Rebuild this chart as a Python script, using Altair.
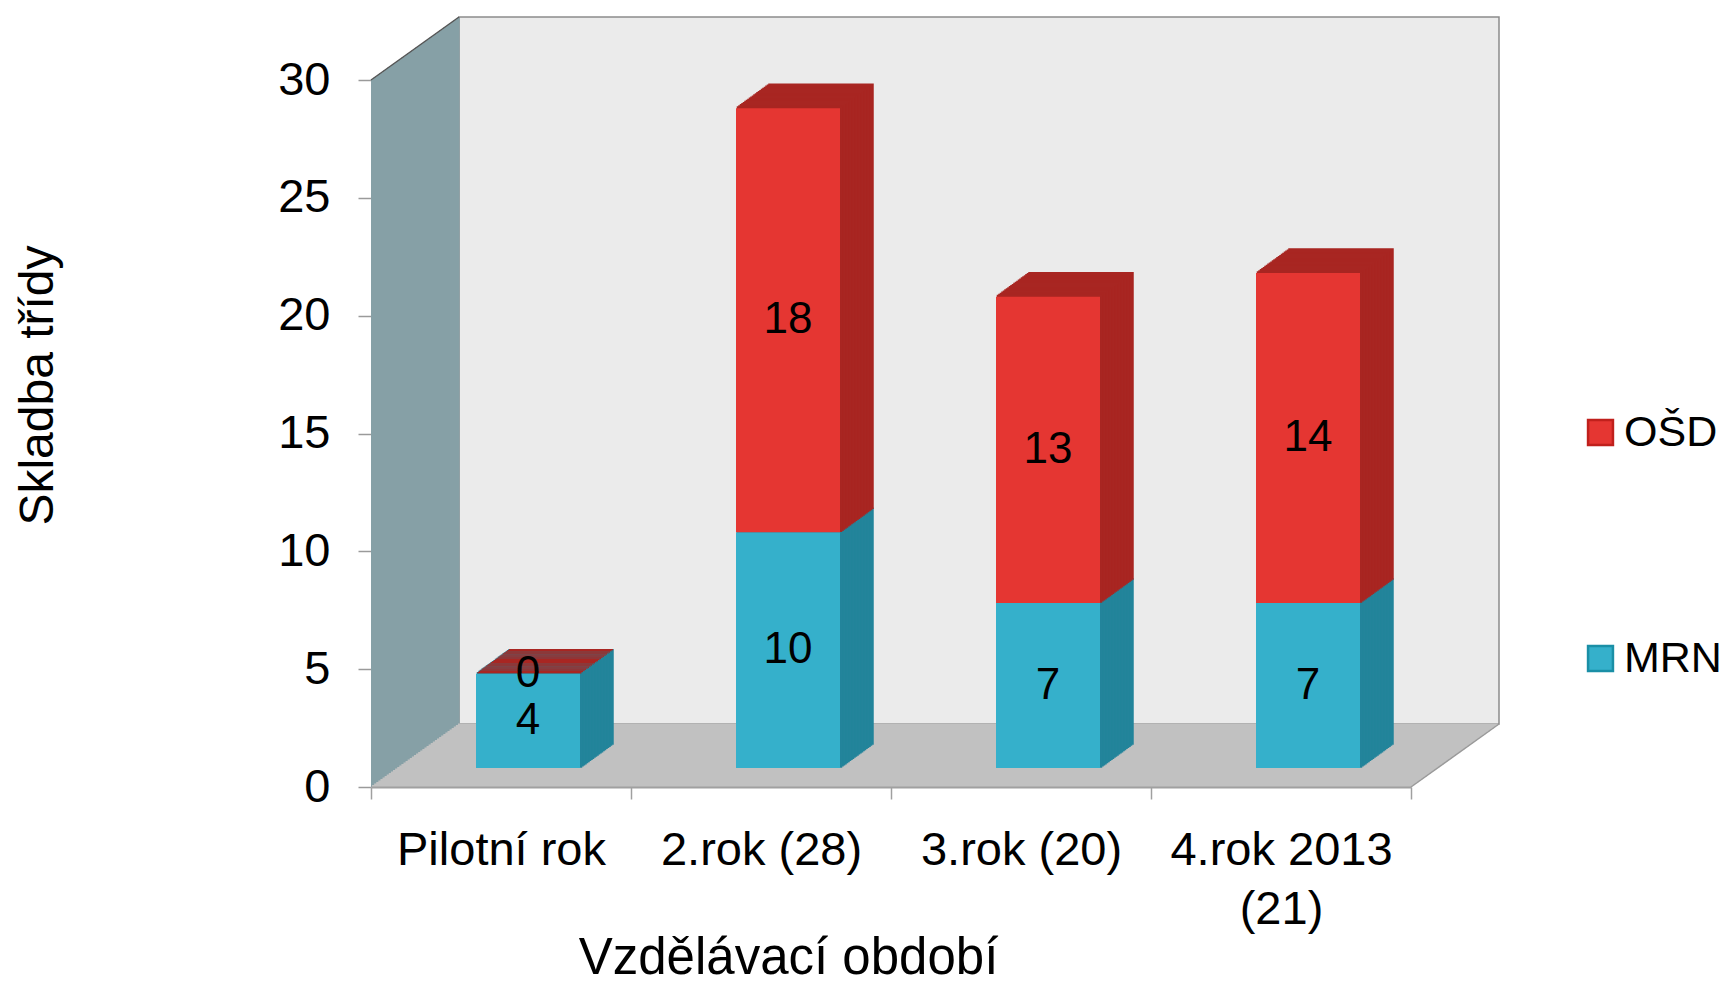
import altair as alt
import pandas as pd

# ---------------- data ----------------
categories = ["Pilotní rok", "2.rok (28)", "3.rok (20)", "4.rok 2013 (21)"]
series_names = ["OŠD", "MRN"]
mrn_values = [4, 10, 7, 7]
osd_values = [0, 18, 13, 14]
y_ticks = [0, 5, 10, 15, 20, 25, 30]

front_colors = ["#e53632", "#35b0cb"]   # OŠD, MRN
edge_colors = ["#c0201c", "#1a8fa6"]    # legend symbol borders
side_colors = {"OŠD": "#a82622", "MRN": "#23849b"}

rows = []
for i, c in enumerate(categories):
    rows.append({"cat": c, "series": "MRN", "value": mrn_values[i], "ord": 0})
    rows.append({"cat": c, "series": "OŠD", "value": osd_values[i], "ord": 1})
df = pd.DataFrame(rows)
one = pd.DataFrame({"d": [0]})

# ---------------- styling ----------------
FONT = "Liberation Sans"
W, H = 1040, 707
DX, DY = 88, 63        # depth of the walls
BX, BY = 27, 19        # front face of bars sits this deep
SX, SY = 33, 24        # depth of bars
BACK = "#ebebeb"
LEFT = "#86a0a6"
FLOOR = "#c1c1c1"

y_scale = alt.Scale(domain=[0, 30], nice=False, zero=True)
y_axis = alt.Axis(values=y_ticks, domain=False, grid=False, ticks=True, tickSize=13,
                  tickColor="#9a9a9a", tickWidth=1.5, labelFontSize=47, labelFont=FONT,
                  labelColor="black", labelPadding=28, titleFontSize=48, titleFont=FONT,
                  titleFontWeight="normal", titleColor="black", titlePadding=215,
                  titleY=305)
Y_TITLE = "Skladba třídy"

def yd(v):
    return alt.YDatum(v, type="quantitative", scale=y_scale, axis=y_axis, title=Y_TITLE)

def y2d(v):
    return alt.Y2Datum(v)

x_axis = alt.Axis(labelAngle=0, domain=True, domainColor="#a0a0a0", domainWidth=2,
                  ticks=True, tickBand="extent", tickSize=12, tickColor="#a0a0a0",
                  tickWidth=1.5, labelFontSize=47, labelFont=FONT, labelColor="black",
                  labelPadding=28, labelLineHeight=59, labelLimit=500,
                  labelExpr="length(datum.label) > 12 ? split(replace(datum.label, ' (', '|('), '|') : datum.label",
                  titleFontSize=51, titleFont=FONT, titleFontWeight="normal",
                  titleColor="black", titleBaseline="alphabetic", titleY=186,
                  titleX=417, zindex=1)
x_enc = alt.X("cat:N", sort=categories,
              scale=alt.Scale(paddingInner=0, paddingOuter=0),
              axis=x_axis, title="Vzdělávací období")

legend_def = alt.Legend(title=None, orient="none", legendX=1208, legendY=331,
                        symbolType="square", symbolSize=620, symbolStrokeWidth=2.5,
                        labelFontSize=43, labelFont=FONT, labelColor="black",
                        labelOffset=2, rowPadding=182, padding=0)
front_scale = alt.Scale(domain=series_names, range=front_colors)
edge_scale = alt.Scale(domain=series_names, range=edge_colors)
bar_w = alt.RelativeBandSize(0.4)

base = alt.Chart(df).transform_stack(
    stack="value", groupby=["cat"], as_=["y0", "y1"], sort=[alt.SortField("ord")]
)

layers = []

# legend carrier (hidden behind the back wall)
layers.append(base.mark_bar(width=bar_w, strokeWidth=2.5).encode(
    x=x_enc, y=yd(15), y2=y2d(15),
    color=alt.Color("series:N", scale=front_scale, legend=legend_def),
    stroke=alt.Stroke("series:N", scale=edge_scale, legend=legend_def),
))

# back wall
layers.append(alt.Chart(one).mark_rect(
    fill=BACK, stroke="#8c8c8c", strokeWidth=1.5,
    xOffset=DX, x2Offset=DX, yOffset=-DY, y2Offset=-DY
).encode(x=alt.value(0), x2=alt.value("width"), y=yd(30), y2=y2d(0)))

# left wall (stacked thin strips)
NL = 44
wl = DX / NL
for i in range(NL):
    sh = (i + 0.5) * wl * DY / DX
    layers.append(alt.Chart(one).mark_rect(
        fill=LEFT, yOffset=-sh
    ).encode(x=alt.value(i * wl), x2=alt.value((i + 1) * wl + 0.6), y=yd(30), y2=y2d(0)))

layers.append(alt.Chart(one).mark_rule(
    color="#555555", strokeWidth=1.5, y2Offset=-DY
).encode(x=alt.value(0), x2=alt.value(DX), y=yd(30), y2=y2d(30)))

# floor
NF = 42
hf = DY / NF
fx = DX / NF
for j in range(NF):
    layers.append(alt.Chart(one).mark_rect(
        fill=FLOOR, xOffset=(j + 0.5) * fx, x2Offset=(j + 0.5) * fx,
        yOffset=-j * hf, y2Offset=-(j + 1) * hf - 0.5
    ).encode(x=alt.value(0), x2=alt.value("width"), y=yd(0), y2=y2d(0)))

layers.append(alt.Chart(one).mark_rule(
    color="#9a9a9a", strokeWidth=1.5, x2Offset=DX, y2Offset=-DY
).encode(x=alt.value("width"), x2=alt.value("width"), y=yd(0), y2=y2d(0)))

# bar depth (side and top faces)
NB = 22
for k in range(NB, 0, -1):
    ox = BX + k * SX / NB
    oy = BY + k * SY / NB
    for s in ["MRN", "OŠD"]:
        layers.append(base.transform_filter(alt.datum.series == s).mark_bar(
            width=bar_w, fill=side_colors[s], stroke=side_colors[s], strokeWidth=1.5,
            xOffset=ox, x2Offset=ox, yOffset=-oy, y2Offset=-oy
        ).encode(
            x=x_enc,
            y=alt.Y("y0:Q", stack=None, scale=y_scale, axis=y_axis, title=Y_TITLE),
            y2="y1:Q",
        ))

# front faces
layers.append(base.mark_bar(
    width=bar_w, xOffset=BX, x2Offset=BX, yOffset=-BY, y2Offset=-BY
).encode(
    x=x_enc,
    y=alt.Y("y0:Q", stack=None, scale=y_scale, axis=y_axis, title=Y_TITLE),
    y2="y1:Q",
    color=alt.Color("series:N", scale=front_scale, legend=legend_def),
))

layers.append(base.transform_calculate(
    mid="(datum.y0 + datum.y1) / 2"
).mark_text(
    xOffset=BX, yOffset=-BY, fontSize=44, font=FONT, color="black"
).encode(
    x=x_enc,
    y=alt.Y("mid:Q", scale=y_scale, axis=y_axis, title=Y_TITLE),
    text=alt.Text("value:Q", format="d"),
))

chart = alt.layer(*layers).properties(
    width=W, height=H,
    autosize=alt.AutoSizeParams(type="none"),
    padding={"left": 363, "top": 72, "right": 316, "bottom": 196},
).configure_view(stroke=None).configure(background="white")

chart.save("out.html", embed_options={"renderer": "svg", "actions": False})
